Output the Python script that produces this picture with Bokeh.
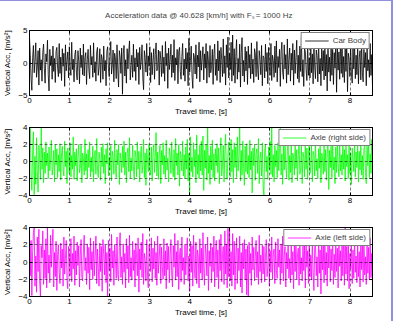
from bokeh.plotting import figure
from bokeh.layouts import column
from bokeh.models import FixedTicker, LinearAxis
from bokeh.embed import file_html
from bokeh.resources import INLINE

TITLE = "Acceleration data  @  40.628 [km/h] with F\u209b = 1000 Hz"
X_LABEL = "Travel time, [s]"
Y_LABEL = "Vertical Acc, [m/s\u00b2]"
X_TICKS = [0, 1, 2, 3, 4, 5, 6, 7, 8]
X_MAX = 8.56
TIME_STEP = 0.0195

BODY_LABEL = "Car Body"
BODY_TICKS = [-5, 0, 5]
BODY = [
    3.9, 1.2, -2.4, -4.2, 0.8, 2.7, -1.5, 0.3, 3.1, -2.2, -0.6, 1.9, -3.4, 2.3, -1.1, 0.5, -2.8, 1.6, 2.9, -0.9,
    -3.1, 1.4, 0.2, 3.5, -1.8, -4.3, 2.1, -0.4, 1.1, -2.5, 2.6, -1.3, 0.7, -3.0, 1.8, 2.4, -0.8, -2.1, 3.0, -1.6,
    0.9, -2.7, 2.2, -0.5, 1.5, -3.6, 2.8, -1.2, 0.4, 1.7, -2.3, 2.5, -0.9, -1.9, 3.2, -1.0, 0.6, -2.9, 1.3, 2.0,
    -1.4, -2.6, 1.9, 0.3, -3.2, 2.3, -0.7, 1.2, -1.8, 2.9, -2.0, 0.8, 1.6, -3.3, 0.5, 2.1, -1.1, -2.4, 2.7, -0.3,
    1.0, -2.2, 3.1, -1.5, 0.2, -2.8, 1.7, 2.4, -1.9, -0.6, 2.2, -3.0, 1.3, 0.7, -2.5, 2.6, -1.2, 0.4, -3.5, 1.8,
    2.5, -0.8, -2.1, 1.1, 3.3, -1.7, -0.3, 2.0, -2.9, 1.5, 0.6, -2.4, 2.8, -1.1, -3.7, 1.9, 0.9, -1.6, 2.3, -4.8,
    1.4, 2.7, -2.0, 0.5, -3.1, 2.2, -0.9, 1.7, 3.4, -2.6, -0.4, 1.2, -2.2, 2.9, -1.3, 0.8, -2.7, 2.1, -0.6, 1.6,
    -3.3, 2.4, -1.0, 0.3, 2.8, -2.3, -4.1, 1.9, 0.7, -1.4, 3.0, -2.0, 1.1, -0.5, 2.5, -3.0, 1.6, -1.8, 0.4, 2.2,
    -2.5, 1.3, 3.1, -1.2, -0.7, 2.0, -3.4, 1.8, 0.6, -2.1, 2.7, -1.6, 0.9, -2.8, 3.3, -0.4, 1.5, -3.9, 2.3, -1.0,
    0.5, 2.9, -2.2, 1.2, -1.5, 3.6, -2.7, 0.8, -0.3, 2.1, -3.2, 1.7, 2.4, -1.3, -2.5, 1.0, 3.0, -1.9, 0.6, -2.8,
    2.3, -0.9, 1.6, -3.5, 3.8, -1.4, 0.4, 2.6, -2.0, -3.9, 1.5, 0.9, -1.7, 2.8, -2.4, 1.2, -0.6, 3.2, -2.9, 1.9,
    -1.1, 0.7, 2.5, -2.6, 1.4, -0.8, 3.0, -3.1, 1.8, 0.3, -2.2, 2.7, -1.5, -0.4, 2.1, -3.3, 1.3, 2.9, -1.9, 0.6,
    -2.7, 3.4, -1.2, 1.9, -3.0, 2.4, 0.5, -2.1, 3.7, -1.6, 1.1, -3.4, 2.8, -0.7, 4.0, -2.3, 1.5, -1.0, 3.2, -2.8,
    4.3, -1.9, 2.2, -3.1, 1.0, 3.6, -2.5, 0.7, -1.4, 2.9, -3.7, 1.6, 3.9, -2.0, 0.4, -2.9, 2.5, -1.2, 1.8, -3.3,
    2.6, -0.8, 1.3, -2.4, 3.1, -1.7, 0.6, -3.0, 2.2, 1.4, -2.1, 3.3, -1.0, -2.6, 1.9, 0.5, -1.8, 2.7, -3.5, 1.1,
    0.8, -2.3, 2.9, -1.3, 1.6, -3.2, 2.4, -0.6, -1.9, 3.0, -2.7, 1.2, 0.4, -2.2, 2.6, -1.5, 3.4, -2.9, 1.0, -0.7,
    2.1, -3.6, 1.7, 3.2, -1.4, -2.5, 2.8, -0.9, 1.3, -3.1, 3.7, -1.8, 0.6, 2.3, -2.8, 1.5, -1.1, 3.0, -3.4, 2.0,
    -1.6, 0.9, 3.5, -2.4, 1.2, -3.0, 2.6, -1.3, 4.0, -2.1, 0.5, -3.6, 2.4, 1.7, -1.0, -2.7, 3.3, -1.9, 0.8, -2.3,
    2.9, -1.5, 1.4, -3.2, 3.1, -0.6, -2.4, 2.0, 1.1, -2.9, 3.4, -1.7, 0.7, -3.5, 2.5, -1.2, 1.9, -2.6, 3.6, -2.0,
    1.3, -4.3, 2.7, -1.4, 0.9, -2.8, 3.2, -1.9, 2.1, -3.3, 1.6, -0.8, 3.0, -4.5, 2.3, -1.1, 1.7, -2.5, 3.5, -1.6,
    3.9, -2.2, 1.0, -3.0, 2.6, -1.3, 3.3, -4.4, 1.5, 0.6, -2.1, 2.8, -1.7, -3.1, 2.2, -0.9, 3.1, -2.4, 1.2, -1.8,
    2.5, -3.2, 0.8, 1.9, -2.6, 3.4, -1.4, -2.9, 2.1, -0.7, 1.6, -3.5, 2.9, -1.2, 0.5, -2.2, 3.0, -1.9, 1.3, -3.7,
]

RIGHT_LABEL = "Axle (right side)"
AXLE_TICKS = [-4, -2, 0, 2, 4]
RIGHT = [
    2.2, 3.9, -1.8, -3.4, 1.4, 3.5, -3.9, 0.6, -2.7, 2.8, -1.2, -3.6, 1.9, 0.4, -2.1, 3.9, -0.9, 1.6, -2.5, 1.1,
    -1.4, 2.3, -0.5, 1.0, -2.0, 1.7, -1.1, 0.3, 2.5, -1.6, -0.7, 1.3, -2.4, 2.0, -0.4, 1.5, -1.9, 0.8, -1.2, 2.1,
    -2.2, 0.9, 1.8, -1.0, -1.7, 2.4, -0.6, 1.2, -2.6, 1.6, 0.2, -1.4, 2.2, -1.8, 0.7, -0.9, 2.9, -2.1, 1.1, -0.5,
    1.5, -2.3, 0.6, 2.0, -1.3, -0.8, 1.9, -2.5, 1.0, 0.4, -1.6, 2.6, -1.1, 0.9, -2.0, 1.4, -0.7, 2.3, -1.8, 0.5,
    -1.2, 1.8, -2.4, 0.7, 1.3, -1.5, 2.7, -0.9, -1.9, 1.1, 0.3, -2.2, 1.7, -0.6, 2.1, -1.4, 0.8, -2.6, 1.5, -0.3,
    2.2, -1.7, 0.5, -1.0, 1.9, -2.3, 1.2, 0.6, -1.5, 2.5, -0.8, -1.9, 1.4, -0.4, 2.0, -2.7, 1.0, 0.3, -1.3, 1.8,
    -0.7, 2.4, -1.6, 1.1, -2.5, 0.9, 1.6, -1.2, 2.8, -2.0, 0.4, -1.1, 1.9, -0.6, -2.2, 1.3, 0.7, -1.8, 2.3, -0.9,
    1.2, -2.4, 0.6, 1.8, -1.4, -0.5, 2.6, -1.9, 1.0, -2.8, 1.5, 0.3, -1.2, 2.1, -0.8, -1.6, 1.7, -2.3, 0.9, 2.0,
    -1.3, 0.5, 3.4, -1.7, 1.1, -2.1, 0.8, 1.9, -2.6, 1.3, -0.4, 2.2, -1.5, 0.7, -1.9, 2.5, -1.0, 0.4, -2.4, 1.6,
    0.9, -1.4, 2.3, -0.7, -1.8, 1.4, -2.2, 2.7, -0.5, 1.0, -1.6, 2.0, -2.9, 1.2, 0.6, -1.1, 2.4, -1.7, 0.8, -2.0,
    1.7, -0.9, 2.6, -2.3, 1.0, -3.8, 2.9, -1.2, 0.5, -1.8, 2.2, -0.6, 1.4, -2.5, 3.1, -1.5, 0.8, -2.0, 1.9, -1.1,
    2.4, -1.6, 3.0, -3.4, 1.3, -0.8, 2.0, -2.2, 4.0, -1.4, 0.7, -2.7, 1.8, -1.0, 2.5, -1.9, 0.9, -2.3, 1.5, -0.5,
    2.1, -1.3, 1.6, -2.6, 0.8, 2.8, -1.7, -0.6, 1.9, -2.4, 1.2, 3.2, -1.5, -2.1, 1.0, 2.3, -0.9, -1.8, 2.6, -1.2,
    1.4, -2.5, 2.2, -0.7, 1.7, -1.9, 2.9, -1.1, 0.6, 4.0, -2.3, 1.3, -1.6, 2.4, -0.8, -2.8, 1.8, -1.2, 2.1, -1.5,
    0.7, -1.9, 2.5, -1.0, 1.2, -3.7, 1.6, -0.5, 2.0, -2.2, 0.9, 1.5, -1.4, 2.7, -2.6, 0.4, 1.1, -1.7, 2.2, -3.0,
    -4.0, 1.3, 2.0, -1.2, 0.6, -2.1, 1.7, -0.9, 2.4, -1.5, 4.0, -1.8, 0.8, -2.4, 1.9, -0.6, 1.3, -1.9, 2.2, -1.1,
    1.5, 3.9, -1.6, 0.9, -2.7, 1.8, -1.0, 2.3, -0.5, -1.9, 1.2, 2.6, -2.2, 0.7, -1.3, 1.9, -2.5, 1.0, 0.4, -1.6,
    2.1, -0.8, 1.4, -2.3, 0.6, 2.5, -1.5, -1.0, 1.8, -2.6, 1.1, 0.5, -1.8, 2.2, -0.9, 1.6, -2.1, 0.8, 2.4, -1.4,
    -0.6, 1.9, -2.4, 1.2, 0.7, -1.7, 2.6, -1.1, 0.3, -2.0, 1.5, -0.8, 2.3, -2.5, 1.0, 0.6, -1.5, 2.0, -1.2, 1.4,
    -2.2, 0.9, 2.8, -3.3, 1.3, -0.7, 1.8, -1.9, 2.4, -1.0, 0.5, -2.6, 1.7, -1.3, 2.1, -0.4, -1.8, 2.5, -1.1, 0.8,
    -1.6, 2.2, -0.9, 1.4, -2.3, 1.9, -0.6, 0.8, -2.0, 2.6, -1.4, 1.0, -2.7, 1.6, 0.4, -1.2, 2.3, -1.8, 1.1, -0.7,
    1.9, -2.4, 1.2, -1.0, 2.5, -1.6, 0.7, -2.1, 1.5, 2.0, -1.3, -2.6, 1.8, -0.5, 2.2, -1.9, 0.9, -1.4, 2.6, -2.2,
]

LEFT_LABEL = "Axle (left side)"
LEFT = [
    3.9, -1.6, 2.5, -3.9, 1.2, 3.4, 4.0, -2.8, 0.7, -3.5, 2.9, -1.1, 3.8, -2.2, -4.0, 1.9, 0.5, 3.6, -2.6, 1.4,
    -1.9, 2.7, -3.0, 4.0, -1.3, 0.8, -2.4, 3.1, -0.6, 1.7, 3.8, -2.9, 1.1, -1.7, 2.4, -3.3, 0.9, 2.0, -1.2, -2.5,
    2.2, -0.7, 1.5, -2.8, 2.9, -1.4, 0.4, 2.5, -2.1, -3.1, 1.8, 0.6, -1.6, 2.7, -2.3, 1.0, -0.8, 3.0, -2.7, 1.3,
    -1.5, 2.3, -0.4, 1.9, -2.9, 0.8, 2.6, -1.8, -2.2, 1.4, 3.1, -1.0, 0.5, -2.6, 2.1, -1.3, 1.7, -3.2, 2.8, -0.9,
    1.2, -2.0, 2.4, -1.6, 0.7, 3.0, -2.5, 1.5, -0.6, -2.8, 2.2, -1.1, 1.8, -3.4, 2.6, 0.9, -1.5, 2.0, -2.4, 1.1,
    -4.0, 2.5, -1.0, 1.6, -2.3, 3.2, -0.7, 1.3, -2.7, 2.0, 0.4, -1.9, 2.9, -1.4, -2.2, 1.7, 3.4, -1.8, 0.6, -2.6,
    2.1, -1.2, 1.0, -3.0, 2.7, -0.8, 1.9, -2.4, 3.1, -1.7, 0.5, -2.1, 2.4, -1.0, 1.4, -2.9, 2.2, 0.7, -1.6, 2.8,
    -3.5, 1.5, -0.9, 2.3, -1.8, 3.3, -2.6, 1.0, 0.3, -2.2, 2.6, -1.5, -3.0, 2.0, 1.2, -1.1, 2.8, -2.3, 1.6, -0.8,
    2.4, -1.9, 1.1, -2.7, 3.0, -1.3, 0.6, 2.1, -2.5, 1.7, -0.5, -2.0, 2.7, -1.6, 1.3, -3.1, 2.2, -0.9, 1.8, -2.4,
    0.8, 2.6, -1.4, -2.9, 1.9, -0.6, 3.3, -2.1, 1.2, -1.7, 2.5, -3.2, 0.9, 1.6, -2.3, 2.9, -1.0, 0.5, -2.6, 2.0,
    -1.5, 1.1, 2.8, -2.2, 0.7, -3.4, 2.4, -1.2, 1.9, -2.8, 3.1, -0.8, -1.9, 2.3, -2.5, 1.4, 0.6, -3.0, 2.7, -1.3,
    1.6, -2.1, 3.4, -0.9, -2.7, 2.0, 1.0, -1.6, 2.9, -3.3, 1.3, -0.5, 2.2, -2.4, 1.7, -1.1, 3.0, -2.9, 0.8, 2.5,
    -1.8, 1.4, -3.1, 2.6, -1.0, 3.2, -2.3, 0.9, 1.8, -2.6, 3.6, -1.4, 2.1, -3.0, 3.9, -1.7, 4.0, -2.2, 1.2, -2.8,
    3.3, -1.5, 2.4, -3.2, 0.7, 2.8, -2.5, 1.6, -1.0, 3.0, -2.9, 1.1, -3.6, 2.2, -0.8, 2.6, -2.1, 1.5, -3.8, 1.9,
    -4.0, 2.3, -1.3, 1.0, -2.7, 2.9, -0.9, 1.7, -2.2, 0.6, 2.5, -1.8, 1.2, -2.6, 3.1, -1.1, 0.8, -2.4, 2.0, -1.4,
    1.8, -2.3, 0.5, 2.6, -1.7, -0.7, 2.2, -2.8, 1.3, -1.2, 2.9, -2.0, 0.9, 1.5, -2.5, 2.3, -1.0, -1.9, 2.7, -0.6,
    1.4, -2.6, 2.1, -1.3, 3.0, -2.2, 0.7, 1.8, -2.9, 1.1, -0.8, 2.5, -1.9, 0.4, -2.4, 2.8, -1.5, 1.2, -3.1, 2.0,
    -1.1, 2.6, -2.0, 0.9, 1.6, -2.7, 3.2, -1.4, 0.5, -2.2, 2.4, -1.0, 1.9, -3.0, 2.1, -0.6, 1.3, -2.5, 2.9, -1.7,
    0.8, -2.1, 2.7, -1.2, -3.3, 1.7, 2.2, -1.6, 0.6, -2.9, 3.0, -1.3, 1.4, -3.7, 2.3, -0.9, 1.9, -2.4, 2.6, -1.5,
    1.1, -2.8, 2.0, -0.7, 2.9, -2.3, 1.5, -1.0, 3.3, -2.6, 0.9, -1.8, 2.4, -1.1, 1.6, -3.0, 2.7, -0.5, 1.3, -2.2,
    2.5, -1.6, 3.2, -2.7, 4.0, -1.4, 1.8, -2.2, 2.6, -3.1, 1.0, -0.8, 2.1, -2.5, 1.4, -1.9, 2.9, -1.2, 0.7, -2.4,
    2.3, -1.7, 1.2, -2.9, 2.6, -0.9, 1.9, -2.3, 3.0, -1.5, 0.6, -2.6, 2.2, -1.3, 1.7, -2.1, 2.8, -1.8, 1.0, -2.7,
]

FONT = "Liberation Sans"


def style_axis(ax):
    ax.axis_line_color = "black"
    ax.major_tick_line_color = "black"
    ax.major_tick_in = 3
    ax.major_tick_out = 0
    ax.minor_tick_line_color = None
    ax.major_label_text_font = FONT
    ax.major_label_text_font_size = "8px"
    ax.major_label_text_color = "black"
    ax.axis_label_text_font = FONT
    ax.axis_label_text_font_size = "8px"
    ax.axis_label_text_font_style = "normal"
    ax.axis_label_text_color = "black"


def panel(values, color, label, yticks, height, top, bottom, title=None):
    x = [i * TIME_STEP for i in range(len(values))]
    p = figure(width=391, height=height, x_range=(0, X_MAX),
               y_range=(yticks[0], yticks[-1]),
               output_backend="svg", toolbar_location=None,
               min_border_left=26, min_border_right=19,
               min_border_top=top, min_border_bottom=bottom)
    p.line(x, values, line_color=color, line_width=0.8, legend_label=label)
    p.background_fill_color = "white"
    p.border_fill_color = "white"
    p.outline_line_color = "black"
    p.outline_line_width = 1

    p.xaxis.ticker = FixedTicker(ticks=X_TICKS)
    p.yaxis.ticker = FixedTicker(ticks=yticks)
    style_axis(p.xaxis[0])
    style_axis(p.yaxis[0])
    p.xaxis.axis_label = X_LABEL
    p.xaxis.major_label_standoff = 2
    p.xaxis.axis_label_standoff = 1
    p.yaxis.axis_label = Y_LABEL
    p.yaxis.major_label_standoff = 2
    p.yaxis.axis_label_standoff = 3

    # mirrored tick marks on top and right (box style), without labels
    top_ax = LinearAxis(ticker=FixedTicker(ticks=X_TICKS))
    style_axis(top_ax)
    top_ax.major_label_text_font_size = "0px"
    top_ax.major_label_text_color = None
    top_ax.major_label_standoff = 0
    p.add_layout(top_ax, "above")
    right_ax = LinearAxis(ticker=FixedTicker(ticks=yticks))
    style_axis(right_ax)
    right_ax.major_label_text_font_size = "0px"
    right_ax.major_label_text_color = None
    right_ax.major_label_standoff = 0
    p.add_layout(right_ax, "right")

    for g in (p.xgrid[0], p.ygrid[0]):
        g.grid_line_color = "black"
        g.grid_line_alpha = 0.85
        g.grid_line_width = 0.6
        g.grid_line_dash = "3 2"
        g.level = "annotation"

    lg = p.legend[0]
    lg.location = "top_right"
    lg.margin = 2
    lg.padding = 3
    lg.spacing = 0
    lg.border_line_color = "black"
    lg.border_line_width = 1
    lg.background_fill_color = "white"
    lg.background_fill_alpha = 1
    lg.label_text_font = FONT
    lg.label_text_font_size = "8px"
    lg.label_height = 9
    lg.glyph_height = 9
    lg.glyph_width = 24
    lg.label_standoff = 4

    if title:
        p.title.text = title
        p.title.align = "center"
        p.title.vertical_align = "top"
        p.title.padding = 4
        p.title.text_font = FONT
        p.title.text_font_size = "8px"
        p.title.text_font_style = "normal"
    return p


p1 = panel(BODY, "#000000", BODY_LABEL, BODY_TICKS, 117, 27, 21, TITLE)
p2 = panel(RIGHT, "#00ff00", RIGHT_LABEL, AXLE_TICKS, 100, 9, 22)
p3 = panel(LEFT, "#ff00ff", LEFT_LABEL, AXLE_TICKS, 104, 9, 26)

page = column(p1, p2, p3, spacing=0,
              styles={"border-top": "1px solid #8f8fdc",
                      "border-right": "2px solid #8f8fdc",
                      "background-color": "white"})

open("out.html", "w").write(file_html(page, INLINE))
